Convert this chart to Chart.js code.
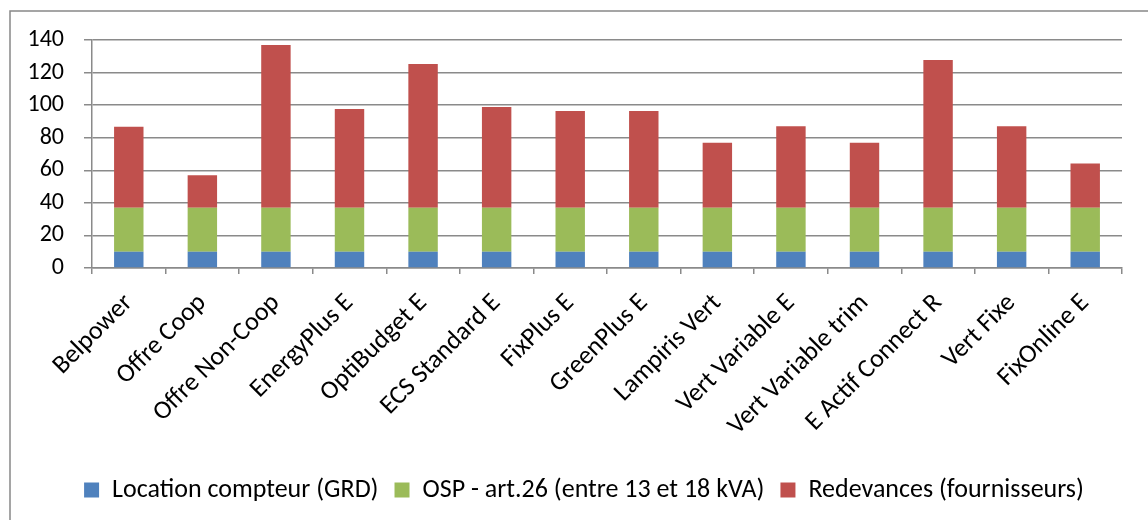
<!DOCTYPE html>
<html lang="fr">
<head>
  <meta charset="UTF-8">
  <title>Redevances par offre</title>
  <script src="https://cdn.jsdelivr.net/npm/chart.js"></script>
  <style>
    html, body { margin: 0; padding: 0; background: #fff; }
    #wrap { width: 1148px; height: 520px; }
  </style>
</head>
<body>
<div id="wrap"><canvas id="offresChart" width="1148" height="520"></canvas></div>
<script>
  const offres = ['Belpower', 'Offre Coop', 'Offre Non-Coop', 'EnergyPlus E', 'OptiBudget E',
    'ECS Standard E', 'FixPlus E', 'GreenPlus E', 'Lampiris Vert', 'Vert Variable E',
    'Vert Variable trim', 'E Actif Connect R', 'Vert Fixe', 'FixOnline E'];
  const locationCompteur = [10, 10, 10, 10, 10, 10, 10, 10, 10, 10, 10, 10, 10, 10];
  const osp = [27, 27, 27, 27, 27, 27, 27, 27, 27, 27, 27, 27, 27, 27];
  const redevances = [49.7, 20, 100, 60.6, 88.3, 61.8, 59.4, 59.4, 39.9, 50, 39.9, 90.7, 50, 27.2];
  const yTicks = [0, 20, 40, 60, 80, 100, 120, 140];

  const fontFamily = 'Carlito, Lato, sans-serif';
  const gridColor = '#8a8a8a';

  // outer frame like the spreadsheet chart border
  const frame = {
    id: 'frame',
    beforeDraw(c) {
      const ctx = c.ctx;
      ctx.save();
      ctx.fillStyle = '#fff';
      ctx.fillRect(0, 0, c.width, c.height);
      ctx.strokeStyle = '#888';
      ctx.lineWidth = 1.5;
      ctx.strokeRect(10, 11, c.width + 20, c.height + 20);
      ctx.restore();
    },
    // legend sits a bit right of centre in the original
    afterLayout(c) {
      c.legend.left += 18;
      c.legend.right += 18;
    }
  };

  const ctx = document.getElementById('offresChart').getContext('2d');
  new Chart(ctx, {
    type: 'bar',
    data: {
      labels: offres,
      datasets: [
        { label: 'Location compteur (GRD)', data: locationCompteur, backgroundColor: '#4F81BD' },
        { label: 'OSP - art.26 (entre 13 et 18 kVA)', data: osp, backgroundColor: '#9BBB59' },
        { label: 'Redevances (fournisseurs)', data: redevances, backgroundColor: '#C0504D' }
      ]
    },
    options: {
      responsive: false,
      animation: false,
      barPercentage: 0.4,
      categoryPercentage: 1,
      layout: { padding: { left: 10, right: 26, top: 40, bottom: 7 } },
      plugins: {
        tooltip: { enabled: false },
        legend: {
          position: 'bottom',
          labels: {
            boxWidth: 15,
            boxHeight: 15,
            padding: 16,
            color: '#000',
            font: { family: fontFamily, size: 26 }
          }
        }
      },
      scales: {
        x: {
          stacked: true,
          afterFit: s => { s.height = 193; },
          grid: { drawOnChartArea: false, drawTicks: true, tickLength: 6, color: gridColor, lineWidth: 1.5, offset: true },
          border: { color: gridColor, width: 1.5 },
          ticks: {
            minRotation: 45,
            maxRotation: 45,
            autoSkip: false,
            padding: 14,
            color: '#000',
            font: { family: fontFamily, size: 26 }
          }
        },
        y: {
          stacked: true,
          min: 0,
          max: 140,
          afterFit: s => { s.width = 82; },
          afterBuildTicks: s => { s.ticks = yTicks.map(v => ({ value: v })); },
          grid: { color: gridColor, lineWidth: 1.5, tickLength: 8 },
          border: { color: gridColor, width: 1.5 },
          ticks: {
            padding: 20,
            color: '#000',
            font: { family: fontFamily, size: 24 }
          }
        }
      }
    },
    plugins: [frame]
  });
</script>
</body>
</html>
